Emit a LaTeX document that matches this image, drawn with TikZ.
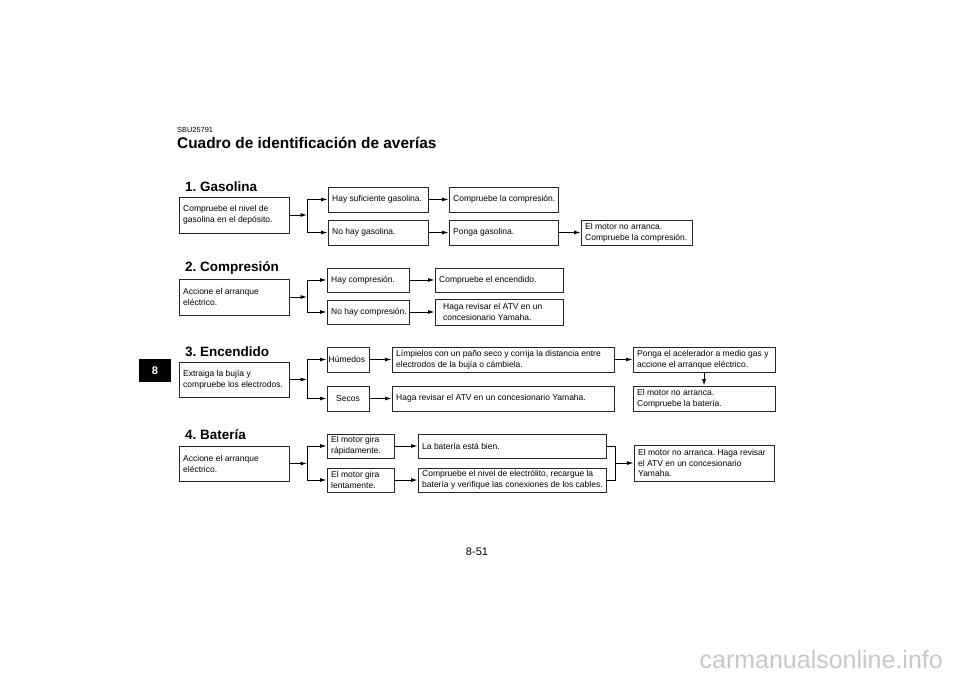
\documentclass[tikz,border=0pt]{standalone}
\usepackage{fontspec}
\setmainfont{Liberation Sans}
\usetikzlibrary{arrows.meta}
\frenchspacing
\newcommand\mybxfont{\fontsize{8.5}{11}\selectfont}
\newcommand\myhdfont{\bfseries\fontsize{13.5}{15}\selectfont}
\begin{document}
\begin{tikzpicture}[x=1pt,y=-1pt,
 bx/.style={draw=black!85, line width=1pt, inner sep=0pt, font=\mybxfont},
 bb/.style n args={4}{minimum width={(#3-#1)*1pt}, minimum height={(#4-#2)*1pt}, at={({(#1+#3)/2},{(#2+#4)/2})}},
 lt/.style={anchor=west, xshift=4.5pt, inner sep=0pt, align=left, font=\mybxfont},
 ln/.style={line width=0.9pt},
 ar/.style={ln, -{Latex[length=6.5pt,width=4pt]}},
 hd/.style={anchor=base west, inner sep=0pt, font=\myhdfont},
]
\useasboundingbox (0,0) rectangle (960,679);

% header
\node[anchor=base west, inner sep=0pt, font=\fontsize{7.4}{8}\selectfont] (code) at (177,133) {SBU25791};
\node[anchor=base west, inner sep=0pt, font=\bfseries\fontsize{15.4}{18}\selectfont] (title) at (177,149) {Cuadro de identificación de averías};

% tab
\node[fill=black, minimum width=32pt, minimum height=23pt, text=white, inner sep=0pt, font=\bfseries\fontsize{11}{12}\selectfont] (tab) at (155,370.5) {8};

% ---------- 1. Gasolina
\node[hd] (h1) at (185,191) {1. Gasolina};
\node[bx, bb={179}{197}{289}{233}, label={[lt]west:{Compruebe el nivel de\\gasolina en el depósito.}}] (a1) {};
\node[bx, bb={328}{187}{428}{212}, label={[lt]west:{Hay suficiente gasolina.}}] (b11) {};
\node[bx, bb={328}{220}{428}{245}, label={[lt]west:{No hay gasolina.}}] (b12) {};
\node[bx, bb={449}{187}{558}{212}, label={[lt]west:{Compruebe la compresión.}}] (c11) {};
\node[bx, bb={449}{220}{558}{245}, label={[lt]west:{Ponga gasolina.}}] (c12) {};
\node[bx, bb={581}{220}{692}{245}, label={[lt]west:{El motor no arranca.\\Compruebe la compresión.}}] (d12) {};
\coordinate (j1) at (307,215);
\draw[ar] (a1.east) -- (j1);
\draw[ln] (j1|-b11.west) -- (j1|-b12.west);
\draw[ar] (j1|-b11.west) -- (b11.west);
\draw[ar] (j1|-b12.west) -- (b12.west);
\draw[ar] (b11.east) -- (c11.west);
\draw[ar] (b12.east) -- (c12.west);
\draw[ar] (c12.east) -- (d12.west);

% ---------- 2. Compresión
\node[hd] (h2) at (185,271) {2. Compresión};
\node[bx, bb={179}{279}{289}{315}, label={[lt]west:{Accione el arranque\\eléctrico.}}] (a2) {};
\node[bx, bb={327}{268}{409}{292}, label={[lt]west:{Hay compresión.}}] (b21) {};
\node[bx, bb={327}{300}{409}{324}, label={[lt]west:{No hay compresión.}}] (b22) {};
\node[bx, bb={435}{268}{563}{292}, label={[lt]west:{Compruebe el encendido.}}] (c21) {};
\node[bx, bb={435}{299}{563}{325}, label={[lt,xshift=4pt]west:{Haga revisar el ATV en un\\concesionario Yamaha.}}] (c22) {};
\coordinate (j2) at (307,297);
\draw[ar] (a2.east) -- (j2);
\draw[ln] (j2|-b21.west) -- (j2|-b22.west);
\draw[ar] (j2|-b21.west) -- (b21.west);
\draw[ar] (j2|-b22.west) -- (b22.west);
\draw[ar] (b21.east) -- (c21.west);
\draw[ar] (b22.east) -- (c22.west);

% ---------- 3. Encendido
\node[hd] (h3) at (185,356) {3. Encendido};
\node[bx, bb={179}{362}{289}{397}, label={[lt]west:{Extraiga la bujía y\\compruebe los electrodos.}}] (a3) {};
\node[bx, bb={327}{347}{369}{372}, label={[lt,xshift=-2.5pt]west:{Húmedos}}] (b31) {};
\node[bx, bb={327}{386}{369}{411}] (b32) {Secos};
\node[bx, bb={392}{347}{614}{372}, label={[lt]west:{Límpielos con un paño seco y corrija la distancia entre\\electrodos de la bujía o cámbiela.}}] (c31) {};
\node[bx, bb={392}{386}{614}{411}, label={[lt]west:{Haga revisar el ATV en un concesionario Yamaha.}}] (c32) {};
\node[bx, bb={633}{347}{775}{372}, label={[lt]west:{Ponga el acelerador a medio gas y\\accione el arranque eléctrico.}}] (d31) {};
\node[bx, bb={633}{386}{775}{411}, label={[lt]west:{El motor no arranca.\\Compruebe la batería.}}] (d32) {};
\coordinate (j3) at (307,379.5);
\draw[ar] (a3.east) -- (j3);
\draw[ln] (j3|-b31.west) -- (j3|-b32.west);
\draw[ar] (j3|-b31.west) -- (b31.west);
\draw[ar] (j3|-b32.west) -- (b32.west);
\draw[ar] (b31.east) -- (c31.west);
\draw[ar] (b32.east) -- (c32.west);
\draw[ar] (c31.east) -- (d31.west);
\draw[ar] (d31.south) -- (d32.north);

% ---------- 4. Batería
\node[hd] (h4) at (185,439) {4. Batería};
\node[bx, bb={179}{446}{289}{481}, label={[lt]west:{Accione el arranque\\eléctrico.}}] (a4) {};
\node[bx, bb={327}{434}{394}{458}, label={[lt]west:{El motor gira\\rápidamente.}}] (b41) {};
\node[bx, bb={327}{468}{394}{492}, label={[lt]west:{El motor gira\\lentamente.}}] (b42) {};
\node[bx, bb={418}{434}{606}{458}, label={[lt]west:{La batería está bien.}}] (c41) {};
\node[bx, bb={418}{468}{606}{492}, label={[lt]west:{Compruebe el nivel de electrólito, recargue la\\batería y verifique las conexiones de los cables.}}] (c42) {};
\node[bx, bb={634}{445}{774}{481}, label={[lt,font=\fontsize{8.5}{10.2}\selectfont]west:{El motor no arranca. Haga revisar\\el ATV en un concesionario\\Yamaha.}}] (d4) {};
\coordinate (j4) at (307,463.5);
\coordinate (k4) at (615,463);
\draw[ar] (a4.east) -- (j4);
\draw[ln] (j4|-b41.west) -- (j4|-b42.west);
\draw[ar] (j4|-b41.west) -- (b41.west);
\draw[ar] (j4|-b42.west) -- (b42.west);
\draw[ar] (b41.east) -- (c41.west);
\draw[ar] (b42.east) -- (c42.west);
\draw[ln] (c41.east) -| (k4|-c42.east) -- (c42.east);
\draw[ar] (k4) -- (d4.west|-k4);

% page number and watermark
\node[inner sep=0pt, font=\fontsize{11}{12}\selectfont] (pg) at (477,552) {8-51};
\node[anchor=base east, inner sep=0pt, text=black!22, font=\fontsize{25}{28}\selectfont] (wm) at (943,668) {carmanualsonline.info};
\end{tikzpicture}
\end{document}
